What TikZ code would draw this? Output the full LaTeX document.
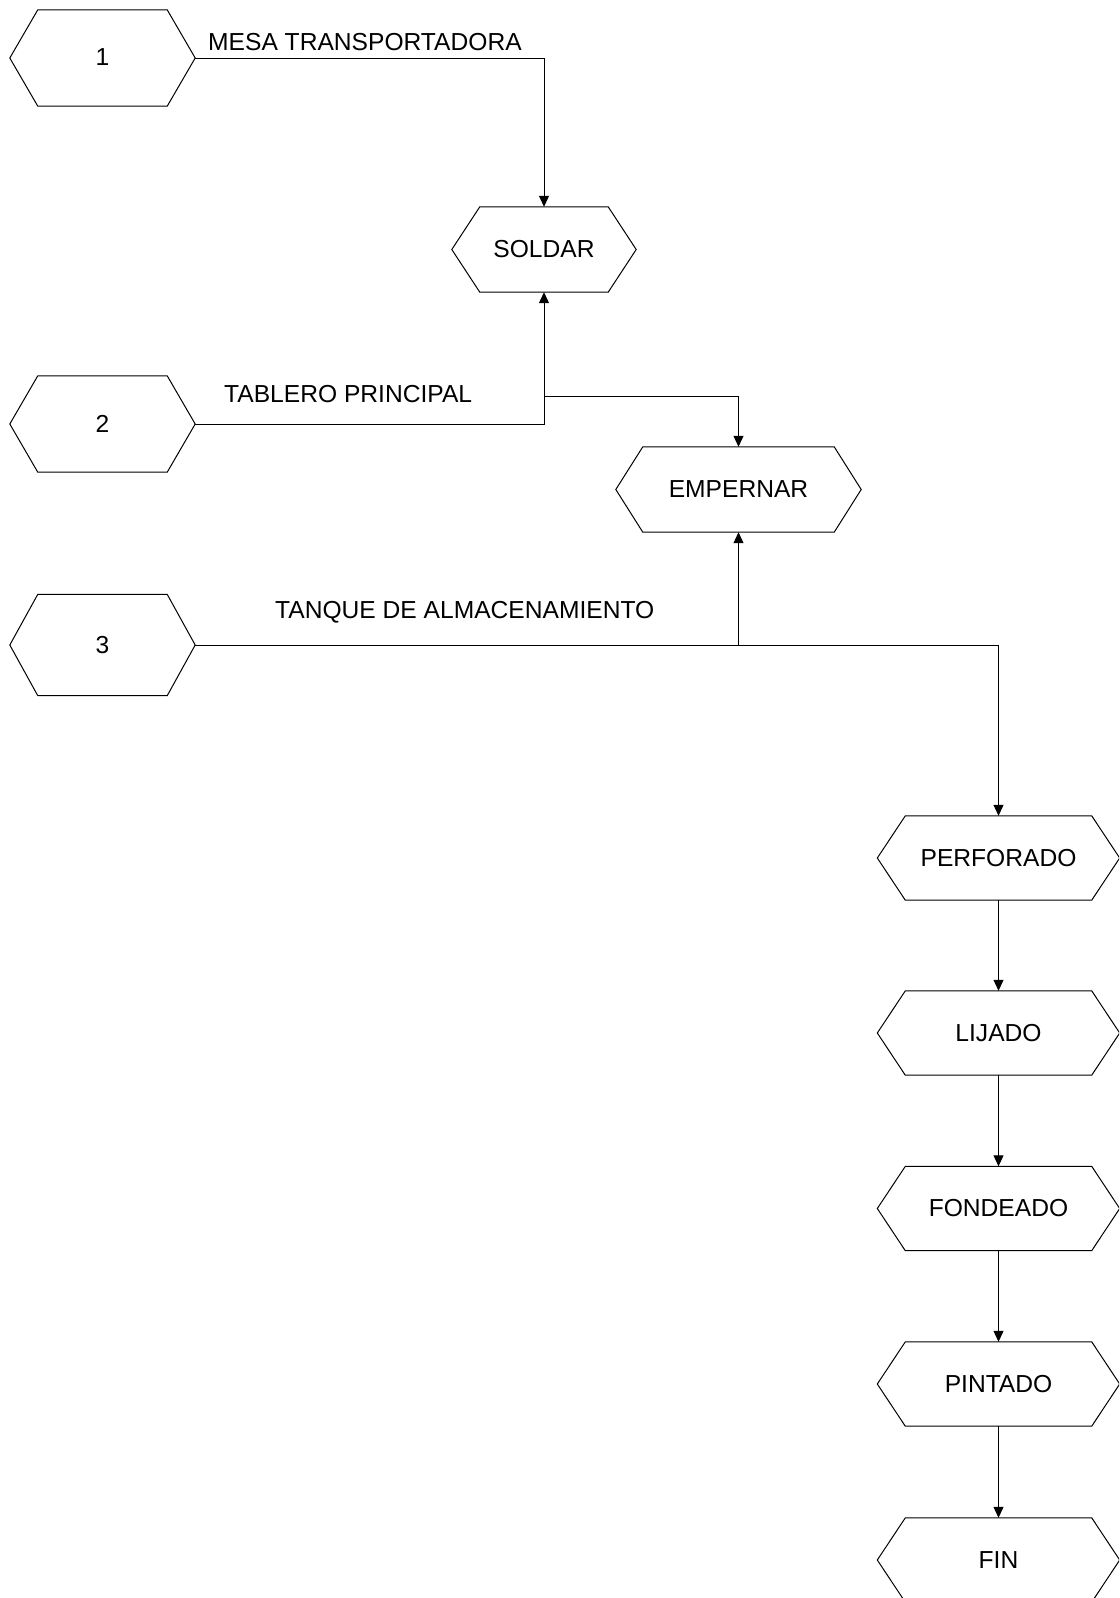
\documentclass[tikz,border=0pt]{standalone}
\usepackage{fontspec}
\setmainfont{Liberation Sans}
\usetikzlibrary{arrows.meta}
\tikzset{
  hexbox/.style={draw=none, inner sep=0pt, minimum height=85pt, font=\fontsize{24.6pt}{28pt}\selectfont},
  lbl/.style={inner sep=0pt, anchor=base west, font=\fontsize{24.6pt}{28pt}\selectfont},
  conn/.style={line width=1pt, black},
  arr/.style={conn, -{Triangle[length=11pt,width=10pt]}},
  hexline/.style={line width=1pt, black, line join=miter}
}
\newcommand{\hexdraw}[2][28pt]{%
  \draw[hexline] ([xshift=#1]#2.north west) -- ([xshift=-#1]#2.north east) -- (#2.east)
    -- ([xshift=-#1]#2.south east) -- ([xshift=#1]#2.south west) -- (#2.west) -- cycle;}
\begin{document}
\begin{tikzpicture}[x=1pt,y=-1pt]
\clip (0,0) rectangle (1119,1598);
\fill[white] (0,0) rectangle (1119,1598);
% start hexagons
\node[hexbox, minimum width=185pt, minimum height=96pt] (h1) at (102.5,58) {\raisebox{1.5pt}{1}};
\node[hexbox, minimum width=185pt, minimum height=96pt] (h2) at (102.5,424) {2};
\node[hexbox, minimum width=185pt, minimum height=101pt] (h3) at (102.5,645) {3};
% process hexagons
\node[hexbox, minimum width=184pt] (sol) at (544,249.5) {SOLDAR};
\node[hexbox, minimum width=245pt] (emp) at (738.5,489.5) {EMPERNAR};
\node[hexbox, minimum width=242pt, minimum height=84pt] (perf) at (998.5,858) {PERFORADO};
\node[hexbox, minimum width=242pt, minimum height=84pt] (lij) at (998.5,1033) {LIJADO};
\node[hexbox, minimum width=242pt, minimum height=84pt] (fon) at (998.5,1208.5) {FONDEADO};
\node[hexbox, minimum width=242pt, minimum height=84pt] (pin) at (998.5,1384) {PINTADO};
\node[hexbox, minimum width=242pt, minimum height=84pt] (fin) at (998.5,1560) {FIN};
\hexdraw{h1}\hexdraw{h2}\hexdraw{h3}
\hexdraw{sol}\hexdraw[27pt]{emp}
\hexdraw{perf}\hexdraw{lij}\hexdraw{fon}\hexdraw{pin}\hexdraw{fin}
% labels
\node[lbl] (l1) at (208,50) {MESA TRANSPORTADORA};
\node[lbl] (l2) at (224,402) {TABLERO PRINCIPAL};
\node[lbl] (l3) at (275,618) {TANQUE DE ALMACENAMIENTO};
% connectors
\draw[arr] (h1.east) -| (sol.north);
\draw[arr] (h2.east) -| (sol.south);
\coordinate (j2) at (544,396);
\draw[arr] (j2) -| (emp.north);
\draw[arr] (h3.east) -| (perf.north);
\coordinate (j3) at (emp.south |- h3.east);
\draw[arr] (j3) -- (emp.south);
\draw[arr] (perf.south) -- (lij.north);
\draw[arr] (lij.south) -- (fon.north);
\draw[arr] (fon.south) -- (pin.north);
\draw[arr] (pin.south) -- (fin.north);
\end{tikzpicture}
\end{document}
